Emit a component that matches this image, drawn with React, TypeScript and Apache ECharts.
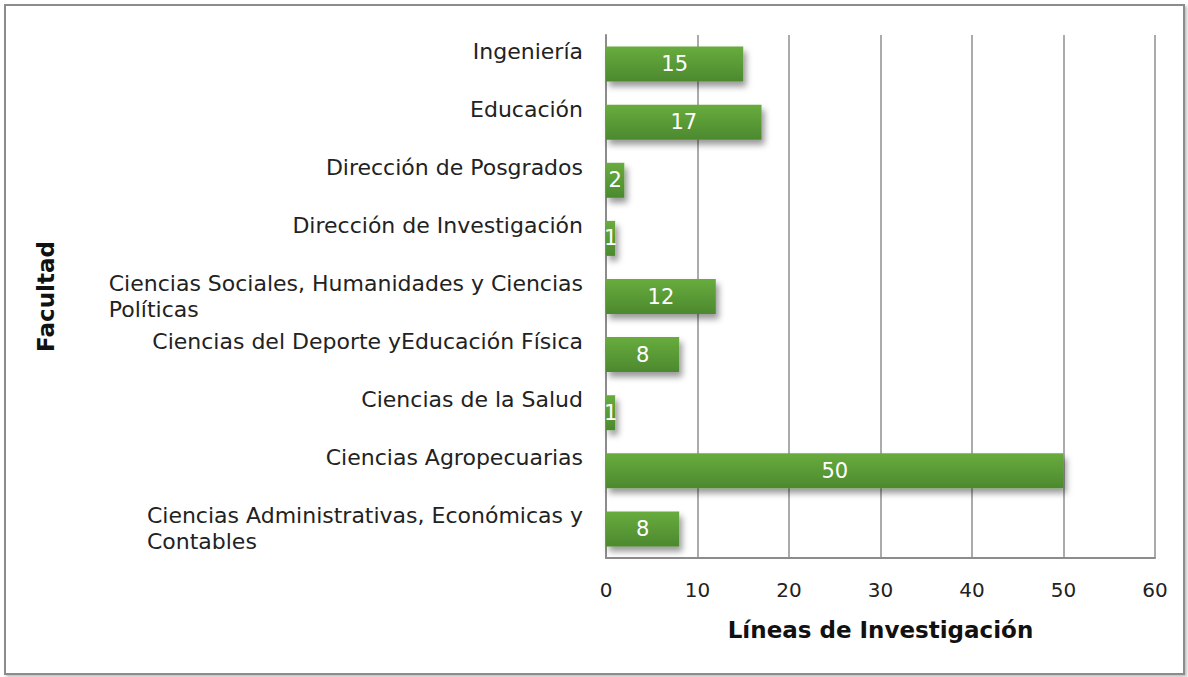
import React, { useEffect, useRef } from "react";
import * as echarts from "echarts";

const categories: string[] = [
  "Ciencias Administrativas, Económicas y\nContables",
  "Ciencias Agropecuarias",
  "Ciencias de la Salud",
  "Ciencias del Deporte yEducación Física",
  "Ciencias Sociales, Humanidades y Ciencias\nPolíticas",
  "Dirección de Investigación",
  "Dirección de Posgrados",
  "Educación",
  "Ingeniería",
];
const values: number[] = [8, 50, 1, 8, 12, 1, 2, 17, 15];
const xTicks = { min: 0, max: 60, interval: 10 };
const xAxisTitle = "Líneas de Investigación";
const yAxisTitle = "Facultad";

const FONT = "DejaVu Sans";

export default function App() {
  const ref = useRef<HTMLDivElement>(null);
  useEffect(() => {
    if (!ref.current) return;
    const chart = echarts.init(ref.current, undefined, { renderer: "svg" });
    chart.setOption({
      animation: false,
      backgroundColor: "#ffffff",
      textStyle: { fontFamily: FONT },
      graphic: [
        {
          type: "rect",
          shape: { x: 5, y: 5, width: 1179, height: 669 },
          style: {
            fill: "#ffffff",
            stroke: "#8c8c8c",
            lineWidth: 2,
            shadowColor: "rgba(0,0,0,0.25)",
            shadowBlur: 3,
            shadowOffsetX: 2,
            shadowOffsetY: 2,
          },
          z: -10,
          silent: true,
        },
      ],
      grid: { left: 606, right: 33, top: 35, bottom: 119, containLabel: false },
      xAxis: {
        type: "value",
        min: xTicks.min,
        max: xTicks.max,
        interval: xTicks.interval,
        name: xAxisTitle,
        nameLocation: "middle",
        nameGap: 60,
        nameTextStyle: { fontFamily: FONT, fontSize: 23, fontWeight: "bold", color: "#111" },
        axisLine: { show: true, lineStyle: { color: "#8c8c8c", width: 2 } },
        axisTick: { show: false },
        axisLabel: { fontFamily: FONT, fontSize: 20, color: "#222", margin: 22 },
        splitLine: { show: true, lineStyle: { color: "#8f8f8f", width: 1.5 } },
      },
      yAxis: {
        type: "category",
        data: categories,
        name: yAxisTitle,
        nameLocation: "middle",
        nameRotate: 90,
        nameGap: 549,
        nameTextStyle: { fontFamily: FONT, fontSize: 23, fontWeight: "bold", color: "#111" },
        axisLine: { show: true, lineStyle: { color: "#8c8c8c", width: 2 } },
        axisTick: { show: false },
        axisLabel: {
          margin: 23,
          align: "right",
          formatter: (v: string) => {
            const lines = v.split("\n");
            const parts = lines.map((l) => `{a|${l}}`);
            if (lines.length === 1) parts.push("{a| }");
            return parts.join("\n");
          },
          rich: {
            a: {
              fontFamily: FONT,
              fontSize: 22,
              color: "#222",
              lineHeight: 26,
              align: "left",
            },
          },
        },
        splitLine: { show: false },
      },
      series: [
        {
          type: "bar",
          data: values,
          barWidth: 35,
          itemStyle: {
            color: new echarts.graphic.LinearGradient(0, 0, 0, 1, [
              { offset: 0, color: "#68ac3e" },
              { offset: 1, color: "#4c892e" },
            ]),
            shadowColor: "rgba(0,0,0,0.4)",
            shadowBlur: 6,
            shadowOffsetX: 3,
            shadowOffsetY: 5,
          },
          label: {
            show: true,
            position: "inside",
            color: "#ffffff",
            fontFamily: FONT,
            fontSize: 21,
          },
        },
      ],
    });
    return () => chart.dispose();
  }, []);
  return (
    <div
      ref={ref}
      style={{ position: "absolute", left: 0, top: 0, width: 1188, height: 677 }}
    />
  );
}
